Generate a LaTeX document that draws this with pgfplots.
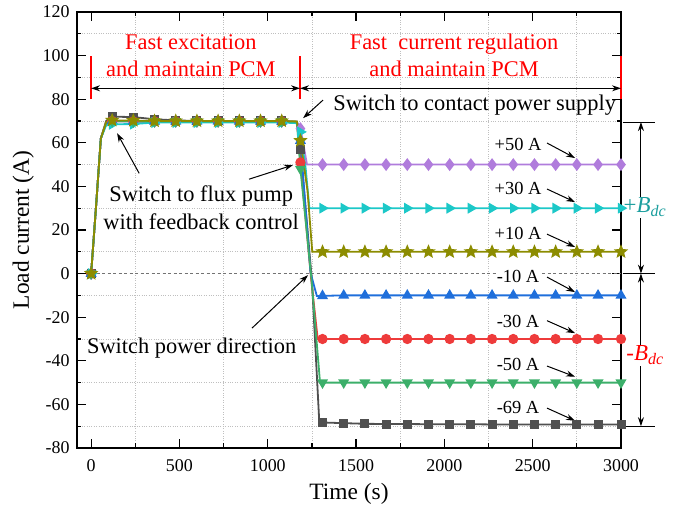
\documentclass[border=0pt]{standalone}
\usepackage{fontspec}
\setmainfont{Liberation Serif}
\usepackage{pgfplots}
\pgfplotsset{compat=1.18}
\usetikzlibrary{arrows.meta}
\definecolor{cpurple}{HTML}{B07CDC}
\definecolor{ccyan}{HTML}{1CC8C8}
\definecolor{colive}{HTML}{8C8C00}
\definecolor{cblue}{HTML}{1F6FDB}
\definecolor{cred}{HTML}{EE3B3B}
\definecolor{cgreen}{HTML}{3CAF6A}
\definecolor{cgray}{HTML}{505050}
\definecolor{cteal}{HTML}{1A9E9E}
\newcommand{\fs}[1]{\fontsize{#1}{#1}\selectfont}
\pgfdeclareplotmark{fstar}{%
  \pgfpathmoveto{\pgfpointpolar{90}{\pgfplotmarksize}}%
  \pgfpathlineto{\pgfpointpolar{126}{0.45\pgfplotmarksize}}%
  \pgfpathlineto{\pgfpointpolar{162}{\pgfplotmarksize}}%
  \pgfpathlineto{\pgfpointpolar{198}{0.45\pgfplotmarksize}}%
  \pgfpathlineto{\pgfpointpolar{234}{\pgfplotmarksize}}%
  \pgfpathlineto{\pgfpointpolar{270}{0.45\pgfplotmarksize}}%
  \pgfpathlineto{\pgfpointpolar{306}{\pgfplotmarksize}}%
  \pgfpathlineto{\pgfpointpolar{342}{0.45\pgfplotmarksize}}%
  \pgfpathlineto{\pgfpointpolar{18}{\pgfplotmarksize}}%
  \pgfpathlineto{\pgfpointpolar{54}{0.45\pgfplotmarksize}}%
  \pgfpathclose
  \pgfusepathqfillstroke}
\tikzset{ar/.style={-{Stealth[length=9bp,width=6bp]}, line width=1bp},
  dar/.style={{Stealth[length=9bp,width=6bp]}-{Stealth[length=9bp,width=6bp]}, line width=1bp}}
\begin{document}
\begin{tikzpicture}
\useasboundingbox (-77bp,-72bp) rectangle (608bp,448bp);
\begin{axis}[
  at={(0,0)}, anchor=south west,
  scale only axis, width=544bp, height=436bp,
  xmin=-80, xmax=3000, ymin=-80, ymax=120,
  xtick={0,500,...,3000}, ytick={-80,-60,...,120},
  minor x tick num=1, minor y tick num=1,
  tick align=inside, tick pos=both,
  major tick length=9bp, minor tick length=4.5bp,
  grid=minor, minor grid style={dotted, black!25, line width=0.8bp},
  axis line style={line width=1.3bp},
  tick style={black, line width=1.2bp},
  tick label style={font=\fs{18}},
  xticklabel style={yshift=-8bp},
  yticklabel style={xshift=-4bp},
  /pgf/number format/assume math mode=true,
  /pgf/number format/1000 sep={},
  scaled x ticks=false,
  xlabel={Time (s)}, ylabel={Load current (A)},
  label style={font=\fs{23.5}},
  xlabel shift=5bp, ylabel shift=2bp,
  clip=false,
  ser/.style={line width=1.8bp, mark size=4bp,
    mark indices={1,5,6,7,8,9,10,11,12,13,15,18,19,20,21,22,23,24,25,26,27,28,29,30,31,32}},
]
\addplot[dash pattern=on 3bp off 2.5bp, black!55, line width=0.8bp] coordinates {(0,0) (3000,0)};
% -69 A
\addplot[ser, cgray, mark=square*, mark size=3.6bp] coordinates {
(0,0)(28,31)(55,62)(85,70)(119,72)(239,71.8)(359,70.8)(479,70.3)(599,70)(719,70)(839,70)(959,70)(1079,70)(1165,69.6)(1185,57)(1250,-3)(1292,-68.5)
(1310,-68.3)(1430,-68.6)(1550,-68.9)(1670,-69)(1790,-69)(1910,-69.1)(2030,-69.1)(2150,-69.1)(2270,-69.2)(2390,-69.2)(2510,-69.2)(2630,-69.2)(2750,-69.2)(2870,-69.2)(3000,-69.2)};
% +50 A
\addplot[ser, cpurple, mark=diamond*, mark size=5bp] coordinates {
(0,0)(28,31)(55,62)(85,69)(119,70)(239,69.8)(359,69.8)(479,69.8)(599,69.8)(719,69.8)(839,69.8)(959,69.8)(1079,69.8)(1165,69.6)(1185,66.5)(1205,58)(1222,50)
(1310,50)(1430,50)(1550,50)(1670,50)(1790,50)(1910,50)(2030,50)(2150,50)(2270,50)(2390,50)(2510,50)(2630,50)(2750,50)(2870,50)(3000,50)};
% -30 A
\addplot[ser, cred, mark=*, mark size=4.2bp] coordinates {
(0,0)(28,31)(55,62)(85,69)(119,70)(239,69.8)(359,69.8)(479,69.8)(599,69.8)(719,69.8)(839,69.8)(959,69.8)(1079,69.8)(1165,69.6)(1185,51)(1245,-2)(1283,-30)
(1310,-30)(1430,-30)(1550,-30)(1670,-30)(1790,-30)(1910,-30)(2030,-30)(2150,-30)(2270,-30)(2390,-30)(2510,-30)(2630,-30)(2750,-30)(2870,-30)(3000,-30)};
% -10 A
\addplot[ser, cblue, mark=triangle*, mark size=4.6bp] coordinates {
(0,0)(28,31)(55,62)(85,69)(119,70)(239,69.8)(359,69.8)(479,69.8)(599,69.8)(719,69.8)(839,69.8)(959,69.8)(1079,69.8)(1165,69.6)(1185,61)(1242,0.5)(1278,-10.3)
(1310,-10.2)(1430,-10)(1550,-10)(1670,-10)(1790,-10)(1910,-10)(2030,-10)(2150,-10)(2270,-10)(2390,-10)(2510,-10)(2630,-10)(2750,-10)(2870,-10)(3000,-10)};
% +30 A
\addplot[ser, ccyan, mark=triangle*, mark size=4.6bp, mark options={rotate=-90}] coordinates {
(0,0)(28,31)(55,62)(85,68)(119,68.5)(239,68.6)(359,69.3)(479,69.3)(599,69.3)(719,69.3)(839,69.3)(959,69.3)(1079,69.3)(1165,69)(1185,65)(1215,48)(1236,30)
(1310,30)(1430,30)(1550,30)(1670,30)(1790,30)(1910,30)(2030,30)(2150,30)(2270,30)(2390,30)(2510,30)(2630,30)(2750,30)(2870,30)(3000,30)};
% -50 A
\addplot[ser, cgreen, mark=triangle*, mark size=4.6bp, mark options={rotate=180}] coordinates {
(0,0)(28,31)(55,62)(85,69)(119,70)(239,69.8)(359,69.8)(479,69.8)(599,69.8)(719,69.8)(839,69.8)(959,69.8)(1079,69.8)(1165,69.6)(1185,48)(1248,-3)(1296,-50)
(1310,-50)(1430,-50)(1550,-50)(1670,-50)(1790,-50)(1910,-50)(2030,-50)(2150,-50)(2270,-50)(2390,-50)(2510,-50)(2630,-50)(2750,-50)(2870,-50)(3000,-50)};
% +10 A
\addplot[ser, colive, mark=fstar, mark size=5.2bp] coordinates {
(0,0)(28,31)(55,62)(85,69.5)(119,70.3)(239,70.2)(359,70)(479,70)(599,70)(719,70)(839,70)(959,70)(1079,70)(1165,69.8)(1185,61)(1225,38)(1252,10)
(1310,10)(1430,10)(1550,10)(1670,10)(1790,10)(1910,10)(2030,10)(2150,10)(2270,10)(2390,10)(2510,10)(2630,10)(2750,10)(2870,10)(3000,10)};

% phase markers
\draw[red, line width=1.6bp] (0,80) -- (0,100) (1183,80) -- (1183,100) (3000,80) -- (3000,100);
\draw[dar] (0,85) -- (1183,85);
\draw[dar] (1183,85) -- (3000,85);
\node[red, align=center, font=\fs{22.5}, inner sep=0pt] at (565,100) {Fast excitation\\[5bp]and maintain PCM};
\node[red, align=center, font=\fs{22.5}, inner sep=0pt] at (2055,100) {Fast\ \ current regulation\\[5bp]and maintain PCM};

% annotations
\node[anchor=west, font=\fs{22.5}, inner sep=0pt] at (1370,77.3) {Switch to contact power supply};
\draw[ar] (1313,79.6) -- (1200,71.3);
\node[align=center, font=\fs{22.5}, inner sep=0pt] at (623,30.3) {Switch to flux pump\\[6bp]with feedback control};
\draw[ar] (272,46) -- (147,64.4);
\draw[ar] (894,43.3) -- (1143,49.8);
\node[font=\fs{22.5}, inner sep=0pt] at (569,-34.2) {Switch power direction};
\draw[ar] (911,-25) -- (1228,-0.7);

% right labels
\node[font=\fs{18.5}, inner sep=1bp] at (2417,59.4) {+50 A};
\draw[ar] (2581,59.9) -- (2740,53);
\node[font=\fs{18.5}, inner sep=1bp] at (2417,39.2) {+30 A};
\draw[ar] (2581,38.8) -- (2740,32.8);
\node[font=\fs{18.5}, inner sep=1bp] at (2417,18.6) {+10 A};
\draw[ar] (2581,18.1) -- (2740,12.2);
\node[font=\fs{18.5}, fill=white, inner sep=1bp] at (2417,-1.1) {-10 A};
\draw[ar] (2581,-1.6) -- (2740,-8.5);
\node[font=\fs{18.5}, inner sep=1bp] at (2417,-21.8) {-30 A};
\draw[ar] (2581,-21.6) -- (2740,-27.3);
\node[font=\fs{18.5}, inner sep=1bp] at (2417,-41.5) {-50 A};
\draw[ar] (2581,-42.4) -- (2740,-47.3);
\node[font=\fs{18.5}, inner sep=1bp] at (2417,-61.2) {-69 A};
\draw[ar] (2581,-61.7) -- (2740,-67.5);

% right brackets
\draw[line width=1bp] (3009,69.5) -- (3192,69.5) (3009,0) -- (3192,0) (3009,-70) -- (3192,-70);
\draw[dar] (3113,69.5) -- (3113,0);
\draw[dar] (3113,0) -- (3113,-70);
\node[fill=white, text=cteal, font=\fs{23}, inner sep=1bp] at (3136,30.5) {+\textit{B}\textsubscript{\textit{dc}}};
\node[fill=white, text=red, font=\fs{23}, inner sep=1bp] at (3136,-37.4) {-\textit{B}\textsubscript{\textit{dc}}};
\end{axis}
\end{tikzpicture}
\end{document}
